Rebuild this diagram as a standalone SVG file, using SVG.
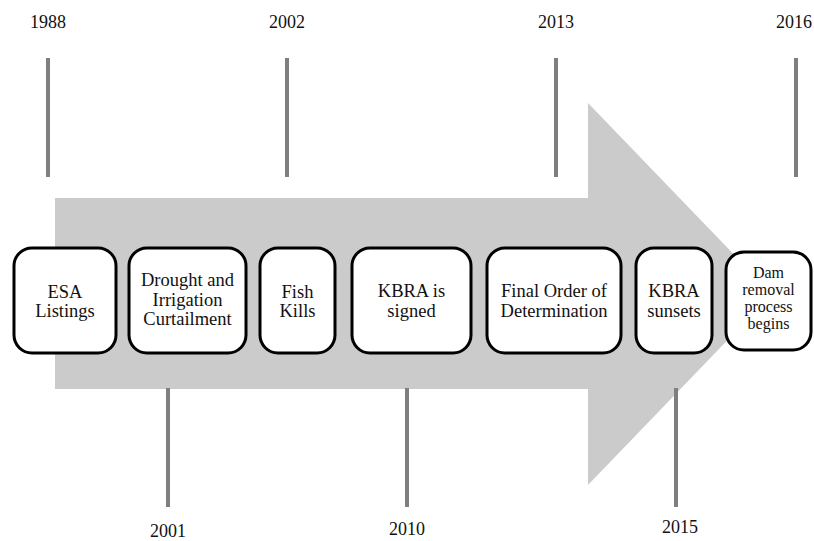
<svg xmlns="http://www.w3.org/2000/svg" width="814" height="541" viewBox="0 0 814 541">
  <style>
    text { font-family: "Liberation Serif", "DejaVu Serif", "Times New Roman", serif; fill: #111111; text-anchor: middle; }
    .yr { font-size: 18px; }
    .lbl { font-size: 18.5px; }
    .lbl-sm { font-size: 16px; }
    .box { fill: #ffffff; stroke: #000000; stroke-width: 3; }
    .tick { stroke: #7f7f7f; stroke-width: 4; }
  </style>
  <rect width="814" height="541" fill="#ffffff"/>

  <!-- big block arrow behind the timeline -->
  <path id="arrow" d="M55,198 L588,198 L588,103 L772,294 L588,485 L588,389 L55,389 Z" fill="#cbcbcb"/>

  <!-- year ticks -->
  <g id="connectors">
    <line class="tick" x1="48" y1="58" x2="48" y2="177"/>
    <line class="tick" x1="287" y1="58" x2="287" y2="177"/>
    <line class="tick" x1="556" y1="58" x2="556" y2="177"/>
    <line class="tick" x1="796" y1="58" x2="796" y2="177"/>
    <line class="tick" x1="168" y1="388" x2="168" y2="507"/>
    <line class="tick" x1="407" y1="388" x2="407" y2="507"/>
    <line class="tick" x1="676" y1="388" x2="676" y2="507"/>
  </g>

  <g id="years">
    <text class="yr" x="48" y="28">1988</text>
    <text class="yr" x="287" y="28">2002</text>
    <text class="yr" x="556" y="28">2013</text>
    <text class="yr" x="794" y="28">2016</text>
    <text class="yr" x="168" y="537">2001</text>
    <text class="yr" x="407" y="535">2010</text>
    <text class="yr" x="680" y="533">2015</text>
  </g>

  <g id="esa">
    <rect class="box" x="14" y="248" width="102" height="105" rx="18"/>
    <text class="lbl" x="65" y="298">ESA</text>
    <text class="lbl" x="65" y="317">Listings</text>
  </g>
  <g id="drought">
    <rect class="box" x="129" y="248" width="117" height="105" rx="18"/>
    <text class="lbl" x="187.5" y="286">Drought and</text>
    <text class="lbl" x="187.5" y="306">Irrigation</text>
    <text class="lbl" x="187.5" y="325">Curtailment</text>
  </g>
  <g id="fish">
    <rect class="box" x="260" y="248" width="75" height="105" rx="18"/>
    <text class="lbl" x="297.5" y="298">Fish</text>
    <text class="lbl" x="297.5" y="317">Kills</text>
  </g>
  <g id="kbra-signed">
    <rect class="box" x="352" y="248" width="119" height="105" rx="18"/>
    <text class="lbl" x="411.5" y="297">KBRA is</text>
    <text class="lbl" x="411.5" y="317">signed</text>
  </g>
  <g id="final-order">
    <rect class="box" x="487" y="248" width="134" height="105" rx="18"/>
    <text class="lbl" x="554" y="297">Final Order of</text>
    <text class="lbl" x="554" y="317">Determination</text>
  </g>
  <g id="kbra-sunsets">
    <rect class="box" x="636" y="248" width="76" height="105" rx="18"/>
    <text class="lbl" x="674" y="297">KBRA</text>
    <text class="lbl" x="674" y="317">sunsets</text>
  </g>
  <g id="dam-removal">
    <rect class="box" x="726" y="252" width="85" height="98" rx="18"/>
    <text class="lbl-sm" x="768.5" y="278">Dam</text>
    <text class="lbl-sm" x="768.5" y="295">removal</text>
    <text class="lbl-sm" x="768.5" y="312">process</text>
    <text class="lbl-sm" x="768.5" y="329">begins</text>
  </g>
</svg>
